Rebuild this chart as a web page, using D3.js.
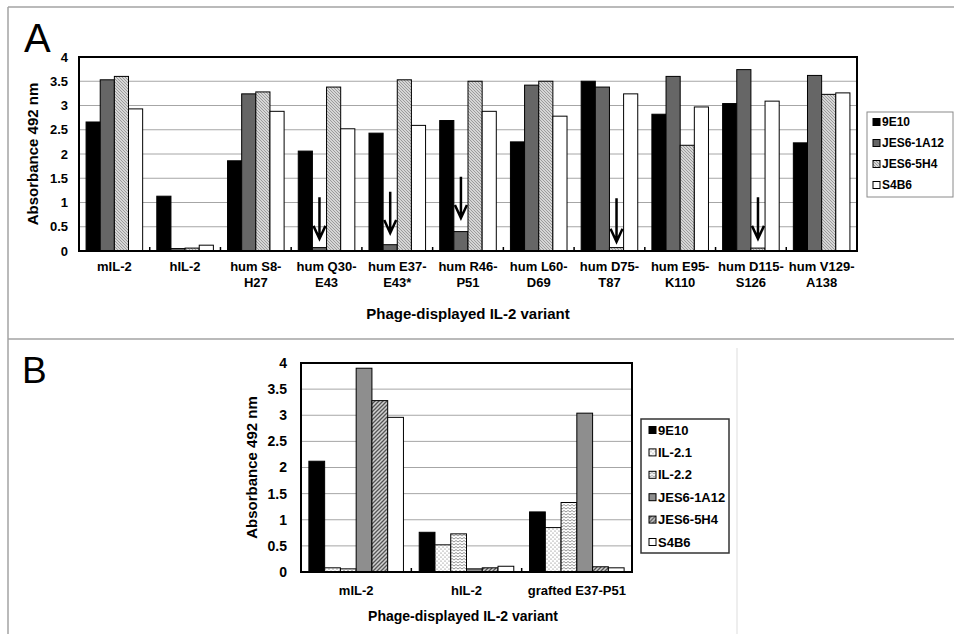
<!DOCTYPE html>
<html>
<head>
<meta charset="utf-8">
<script src="https://cdn.jsdelivr.net/npm/d3@7"></script>
<style>
  body { margin: 0; background: #fff; }
  svg { display: block; }
  text { font-family: "Liberation Sans", Arial, sans-serif; }
</style>
</head>
<body>
<svg id="chart" width="954" height="634"></svg>
<script>
// ---- data ----
const yTicks = [0, 0.5, 1, 1.5, 2, 2.5, 3, 3.5, 4];
const xTitle = "Phage-displayed IL-2 variant";
const yTitle = "Absorbance 492 nm";

// panel A
const categoriesA = ["mIL-2", "hIL-2", "hum S8-\nH27", "hum Q30-\nE43", "hum E37-\nE43*", "hum R46-\nP51",
  "hum L60-\nD69", "hum D75-\nT87", "hum E95-\nK110", "hum D115-\nS126", "hum V129-\nA138"];
const seriesA = ["9E10", "JES6-1A12", "JES6-5H4", "S4B6"];
const a9E10 = [2.66, 1.13, 1.86, 2.06, 2.43, 2.69, 2.25, 3.50, 2.82, 3.04, 2.23];
const aJES61A12 = [3.53, 0.05, 3.24, 0.07, 0.13, 0.40, 3.42, 3.38, 3.60, 3.74, 3.62];
const aJES65H4 = [3.60, 0.06, 3.28, 3.38, 3.53, 3.50, 3.50, 0.07, 2.18, 0.06, 3.23];
const aS4B6 = [2.93, 0.12, 2.88, 2.52, 2.59, 2.88, 2.78, 3.24, 2.97, 3.09, 3.26];
// arrows pointing at the lost signal (value where the shaft starts / where the tip is)
const arrowsA = [
  { category: "hum Q30-\nE43", series: "JES6-1A12", from: 1.11, to: 0.25 },
  { category: "hum E37-\nE43*", series: "JES6-1A12", from: 1.22, to: 0.37 },
  { category: "hum R46-\nP51", series: "JES6-1A12", from: 1.53, to: 0.68 },
  { category: "hum D75-\nT87", series: "JES6-5H4", from: 1.09, to: 0.19 },
  { category: "hum D115-\nS126", series: "JES6-5H4", from: 1.11, to: 0.25 }
];

// panel B
const categoriesB = ["mIL-2", "hIL-2", "grafted E37-P51"];
const seriesB = ["9E10", "IL-2.1", "IL-2.2", "JES6-1A12", "JES6-5H4", "S4B6"];
const b9E10 = [2.12, 0.76, 1.15];
const bIL21 = [0.08, 0.52, 0.85];
const bIL22 = [0.06, 0.73, 1.33];
const bJES61A12 = [3.90, 0.06, 3.04];
const bJES65H4 = [3.28, 0.08, 0.10];
const bS4B6 = [2.96, 0.11, 0.08];

// ---- drawing ----
const svg = d3.select("#chart");
const defs = svg.append("defs");

const hatchA = defs.append("pattern").attr("id", "hatchA").attr("patternUnits", "userSpaceOnUse")
  .attr("width", 3).attr("height", 3);
hatchA.append("rect").attr("width", 3).attr("height", 3).attr("fill", "#d6d6d6");
hatchA.append("path").attr("d", "M-1,-1 L4,4 M-1,2 L1,4 M2,-1 L4,1").attr("stroke", "#8c8c8c").attr("stroke-width", 0.8);

const hatchB = defs.append("pattern").attr("id", "hatchB").attr("patternUnits", "userSpaceOnUse")
  .attr("width", 4).attr("height", 4);
hatchB.append("rect").attr("width", 4).attr("height", 4).attr("fill", "#d0d0d0");
hatchB.append("path").attr("d", "M-1,1 L1,-1 M0,4 L4,0 M3,5 L5,3").attr("stroke", "#555").attr("stroke-width", 1.3);

const dots = defs.append("pattern").attr("id", "dots").attr("patternUnits", "userSpaceOnUse")
  .attr("width", 4).attr("height", 4);
dots.append("rect").attr("width", 4).attr("height", 4).attr("fill", "#fff");
dots.append("circle").attr("cx", 1).attr("cy", 1).attr("r", 0.6).attr("fill", "#666");
dots.append("circle").attr("cx", 3).attr("cy", 3).attr("r", 0.6).attr("fill", "#666");

const zigzag = defs.append("pattern").attr("id", "zigzag").attr("patternUnits", "userSpaceOnUse")
  .attr("width", 4).attr("height", 3);
zigzag.append("rect").attr("width", 4).attr("height", 3).attr("fill", "#fff");
zigzag.append("path").attr("d", "M0,0.5 L2,2 L4,0.5").attr("fill", "none").attr("stroke", "#777").attr("stroke-width", 0.8);

const fillsA = { "9E10": "#000", "JES6-1A12": "#666", "JES6-5H4": "url(#hatchA)", "S4B6": "#fff" };
const fillsB = { "9E10": "#000", "IL-2.1": "url(#dots)", "IL-2.2": "url(#zigzag)",
  "JES6-1A12": "#8e8e8e", "JES6-5H4": "url(#hatchB)", "S4B6": "#fff" };

// panel frames
const frame = svg.append("g").attr("stroke", "#a3a3a3").attr("stroke-width", 1.5);
frame.append("line").attr("x1", 8).attr("y1", 7).attr("x2", 954).attr("y2", 7);
frame.append("line").attr("x1", 8).attr("y1", 7).attr("x2", 8).attr("y2", 634);
frame.append("line").attr("x1", 8).attr("y1", 339).attr("x2", 954).attr("y2", 339);
svg.append("line").attr("x1", 737).attr("y1", 348).attr("x2", 737).attr("y2", 634)
  .attr("stroke", "#e8e8e8").attr("stroke-width", 1.5);

svg.append("text").attr("x", 24).attr("y", 52).attr("font-size", 40).text("A");
svg.append("text").attr("x", 22).attr("y", 383).attr("font-size", 37).text("B");

function drawPanel(o) {
  const g = svg.append("g");
  const x0 = d3.scaleBand().domain(o.categories).range([o.left, o.right]);
  const G = x0.bandwidth();
  const w = G / (o.series.length + 1);
  const x1 = d3.scaleBand().domain(o.series).range([w / 2, G - w / 2]);
  const y = d3.scaleLinear().domain([0, 4]).range([o.bottom, o.top]);

  g.append("g").selectAll("line")
    .data(yTicks.filter((t) => t > 0 && t < 4))
    .join("line")
    .attr("x1", o.left).attr("x2", o.right)
    .attr("y1", (d) => y(d)).attr("y2", (d) => y(d))
    .attr("stroke", "#a6a6a6").attr("stroke-width", 1);

  const flat = o.categories.flatMap((c, i) => o.series.map((s, j) => ({ c, s, v: o.rows[j][i] })));
  g.append("g").selectAll("rect")
    .data(flat)
    .join("rect")
    .attr("x", (d) => x0(d.c) + x1(d.s))
    .attr("width", x1.bandwidth())
    .attr("y", (d) => y(d.v))
    .attr("height", (d) => y(0) - y(d.v))
    .attr("fill", (d) => o.fills[d.s])
    .attr("stroke", "#000").attr("stroke-width", 1);

  g.append("g")
    .attr("transform", `translate(${o.left},0)`)
    .call(d3.axisLeft(y).tickValues(yTicks).tickSize(0).tickPadding(o.tickPad).tickFormat(d3.format("~g")))
    .call((sel) => sel.select(".domain").remove())
    .call((sel) => sel.attr("font-family", null).attr("font-size", null))
    .call((sel) => sel.selectAll("text").attr("fill", "#000").attr("font-weight", "bold").attr("font-size", o.tickSize));

  // category separator ticks on the x axis
  g.append("g").selectAll("line")
    .data(o.categories.slice(1))
    .join("line")
    .attr("x1", (d) => x0(d)).attr("x2", (d) => x0(d))
    .attr("y1", o.bottom).attr("y2", o.bottom - 4)
    .attr("stroke", "#000").attr("stroke-width", 1.5);

  g.append("rect")
    .attr("x", o.left).attr("y", o.top)
    .attr("width", o.right - o.left).attr("height", o.bottom - o.top)
    .attr("fill", "none").attr("stroke", "#000").attr("stroke-width", 2);

  g.append("g").selectAll("text")
    .data(o.categories)
    .join("text")
    .attr("x", (d) => x0(d) + G / 2)
    .attr("y", o.labelY)
    .attr("text-anchor", "middle").attr("font-weight", "bold").attr("font-size", o.labelSize)
    .selectAll("tspan")
    .data((d) => d.split("\n"))
    .join("tspan")
    .attr("x", function () { return d3.select(this.parentNode).attr("x"); })
    .attr("dy", (d, i) => (i === 0 ? 0 : 16))
    .text((d) => d);

  g.append("text")
    .attr("x", o.titleX).attr("y", o.titleY)
    .attr("text-anchor", "middle").attr("font-weight", "bold").attr("font-size", o.titleSize)
    .text(xTitle);

  g.append("text")
    .attr("transform", `translate(${o.yTitleX},${(o.top + o.bottom) / 2}) rotate(-90)`)
    .attr("text-anchor", "middle").attr("font-weight", "bold").attr("font-size", 15)
    .text(yTitle);

  // legend
  const lg = g.append("g");
  lg.append("rect")
    .attr("x", o.legend.x).attr("y", o.legend.y).attr("width", o.legend.w).attr("height", o.legend.h)
    .attr("fill", "#fff").attr("stroke", o.legend.stroke).attr("stroke-width", o.legend.sw);
  const item = lg.selectAll("g.item")
    .data(o.series)
    .join("g")
    .attr("class", "item")
    .attr("transform", (d, i) => `translate(0,${o.legend.y0 + i * o.legend.step})`);
  item.append("rect")
    .attr("x", o.legend.sx).attr("y", -3.5).attr("width", 7).attr("height", 7)
    .attr("fill", (d) => o.fills[d]).attr("stroke", "#000").attr("stroke-width", 1);
  item.append("text")
    .attr("x", o.legend.tx).attr("y", 0).attr("dy", "0.36em")
    .attr("font-weight", "bold").attr("font-size", o.legend.size)
    .text((d) => d);

  return { x0, x1, y };
}

const A = drawPanel({
  categories: categoriesA, series: seriesA, rows: [a9E10, aJES61A12, aJES65H4, aS4B6], fills: fillsA,
  left: 79, right: 857, top: 57, bottom: 251,
  tickPad: 11, tickSize: 13, labelY: 271, labelSize: 13,
  titleX: 468, titleY: 319, titleSize: 15, yTitleX: 38,
  legend: { x: 867, y: 112, w: 86, h: 85, y0: 122, step: 21, sx: 873, tx: 882, size: 12, stroke: "#8a8a8a", sw: 1 }
});

drawPanel({
  categories: categoriesB, series: seriesB, rows: [b9E10, bIL21, bIL22, bJES61A12, bJES65H4, bS4B6], fills: fillsB,
  left: 301, right: 632, top: 363, bottom: 572,
  tickPad: 14, tickSize: 14, labelY: 595, labelSize: 13,
  titleX: 463, titleY: 621, titleSize: 14, yTitleX: 257,
  legend: { x: 641, y: 419, w: 88, h: 134, y0: 430, step: 22.4, sx: 649, tx: 658, size: 13, stroke: "#333", sw: 1.5 }
});

// arrows in panel A
const arrows = svg.append("g").attr("stroke", "#000").attr("stroke-width", 2.5).attr("fill", "none");
arrows.selectAll("path")
  .data(arrowsA)
  .join("path")
  .attr("d", (d) => {
    const cx = A.x0(d.category) + A.x1(d.series) + A.x1.bandwidth() / 2;
    const y1 = A.y(d.from);
    const y2 = A.y(d.to);
    return `M${cx},${y1} L${cx},${y2} M${cx - 6},${y2 - 13} L${cx},${y2} L${cx + 6},${y2 - 13}`;
  });
</script>
</body>
</html>
